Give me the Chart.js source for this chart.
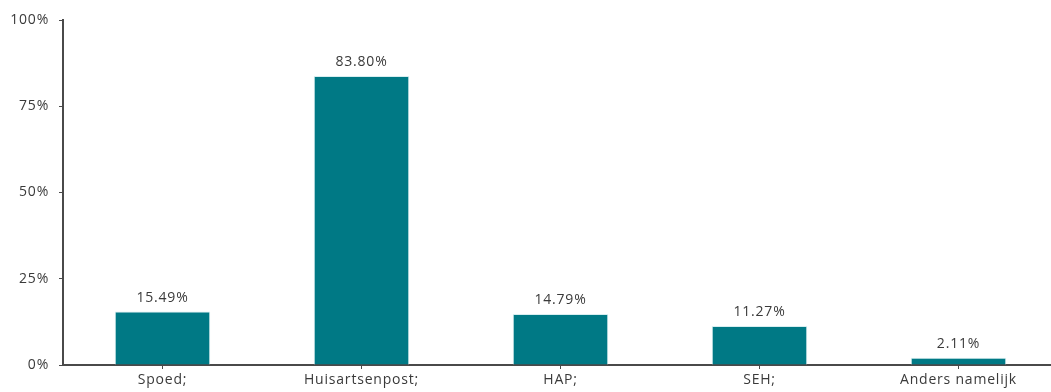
<!DOCTYPE html>
<html lang="nl">
<head>
  <meta charset="UTF-8">
  <title>Bar chart</title>
  <script src="https://cdn.jsdelivr.net/npm/chart.js"></script>
  <style>
    html, body {
      margin: 0;
      padding: 0;
      background: #ffffff;
      overflow: hidden;
    }
    #chartBox {
      width: 1060px;
      height: 392px;
      position: relative;
    }
  </style>
</head>
<body>
  <div id="chartBox">
    <canvas id="barChart"></canvas>
  </div>

  <script>
    const categories = ['Spoed;', 'Huisartsenpost;', 'HAP;', 'SEH;', 'Anders namelijk'];
    const percentages = [15.49, 83.80, 14.79, 11.27, 2.11];
    const yTicks = [0, 25, 50, 75, 100];

    const textColor = '#3a3a3a';
    const axisColor = '#4a4a4a';
    const fontFamily = '"Open Sans", "Noto Sans", sans-serif';
    const spacing = '0.8px';

    // The text in the original is a bit wider, so spread the letters
    const letterSpacingPlugin = {
      id: 'letterSpacingPlugin',
      beforeUpdate: (chart) => { chart.ctx.letterSpacing = spacing; },
      beforeDraw: (chart) => { chart.ctx.letterSpacing = spacing; }
    };

    // Draws the percentage above every bar
    const valueLabelPlugin = {
      id: 'valueLabelPlugin',
      afterDatasetsDraw: (chart) => {
        const ctx = chart.ctx;
        const meta = chart.getDatasetMeta(0);
        ctx.save();
        ctx.letterSpacing = spacing;
        ctx.font = '14px ' + fontFamily;
        ctx.fillStyle = textColor;
        ctx.textAlign = 'center';
        ctx.textBaseline = 'bottom';
        meta.data.forEach((bar, i) => {
          ctx.fillText(percentages[i].toFixed(2) + '%', bar.x, bar.y - 7);
        });
        ctx.restore();
      }
    };

    const ctx = document.getElementById('barChart').getContext('2d');

    new Chart(ctx, {
      type: 'bar',
      data: {
        labels: categories,
        datasets: [{
          data: percentages,
          backgroundColor: '#007985',
          borderColor: '#d8eef0',
          borderWidth: 1,
          barPercentage: 0.48,
          categoryPercentage: 1
        }]
      },
      options: {
        responsive: true,
        maintainAspectRatio: false,
        animation: false,
        layout: {
          padding: { top: 20, right: 2, left: 0, bottom: 0 }
        },
        plugins: {
          legend: { display: false },
          tooltip: { enabled: false }
        },
        scales: {
          x: {
            grid: {
              display: true,
              drawOnChartArea: false,
              offset: false,
              tickLength: 4,
              color: axisColor,
              lineWidth: 1
            },
            border: { display: true, color: axisColor, width: 2 },
            ticks: {
              color: textColor,
              padding: 3,
              maxRotation: 0,
              font: { family: fontFamily, size: 14 }
            },
            afterFit: (scale) => { scale.height = 27; }
          },
          y: {
            min: 0,
            max: 100,
            afterBuildTicks: (scale) => {
              scale.ticks = yTicks.map(v => ({ value: v }));
            },
            grid: {
              display: true,
              drawOnChartArea: false,
              tickLength: 4,
              color: axisColor,
              lineWidth: 1
            },
            border: { display: true, color: axisColor, width: 2 },
            ticks: {
              color: textColor,
              padding: 10,
              font: { family: fontFamily, size: 14 },
              callback: (v) => v + '%'
            },
            afterFit: (scale) => { scale.width = 63; }
          }
        }
      },
      plugins: [letterSpacingPlugin, valueLabelPlugin]
    });
  </script>
</body>
</html>
